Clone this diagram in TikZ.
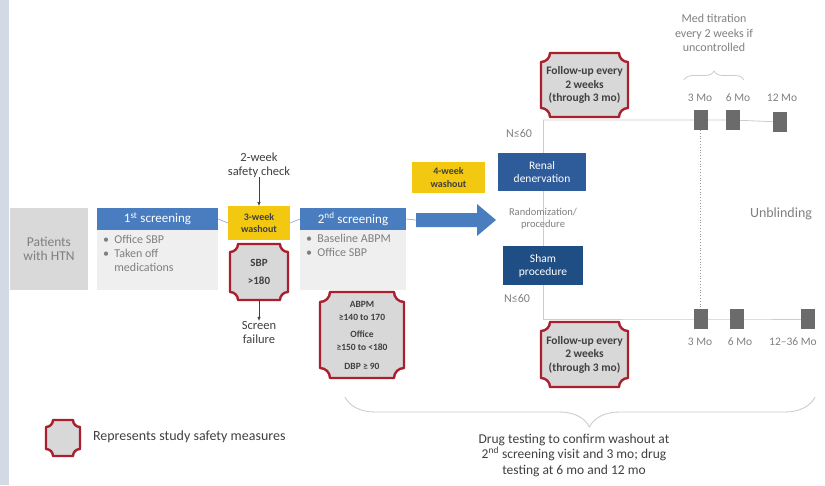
\documentclass[tikz,border=0pt]{standalone}
\usepackage{fontspec}
\setmainfont{Carlito}
\usetikzlibrary{backgrounds,calc,decorations.pathreplacing,arrows.meta}
\definecolor{stripc}{HTML}{D3DAE6}
\definecolor{boxgray}{HTML}{D9D9D9}
\definecolor{bodygray}{HTML}{EFEFEF}
\definecolor{headblue}{HTML}{4A7DBF}
\definecolor{renalblue}{HTML}{2E5C9A}
\definecolor{shamblue}{HTML}{1F4E85}
\definecolor{washy}{HTML}{F2C811}
\definecolor{plaqred}{HTML}{A91F2E}
\definecolor{plaqfill}{HTML}{D8D8D8}
\definecolor{txtgray}{HTML}{7F7F7F}
\definecolor{darktxt}{HTML}{404040}
\definecolor{linegray}{HTML}{CCCCCC}
\definecolor{markgray}{HTML}{6B6B6B}
\pgfdeclarelayer{bg}
\pgfdeclarelayer{mid}
\pgfsetlayers{bg,mid,main}
\newcommand\plaq[2][7]{%
\begin{pgfonlayer}{mid}
\filldraw[draw=plaqred, fill=plaqfill, line width=2.4pt, line join=round]
 ($(#2.north west)+(0,#1)$) .. controls ($(#2.north west)+(0.55*#1,#1)$) and ($(#2.north west)+(#1,0.55*#1)$) .. ($(#2.north west)+(#1,0)$)
 -- ($(#2.north east)+(-#1,0)$) .. controls ($(#2.north east)+(-#1,0.55*#1)$) and ($(#2.north east)+(-0.55*#1,#1)$) .. ($(#2.north east)+(0,#1)$)
 -- ($(#2.south east)+(0,-#1)$) .. controls ($(#2.south east)+(-0.55*#1,-#1)$) and ($(#2.south east)+(-#1,-0.55*#1)$) .. ($(#2.south east)+(-#1,0)$)
 -- ($(#2.south west)+(#1,0)$) .. controls ($(#2.south west)+(#1,-0.55*#1)$) and ($(#2.south west)+(0.55*#1,-#1)$) .. ($(#2.south west)+(0,-#1)$)
 -- cycle;
\end{pgfonlayer}}
\tikzset{
 base/.style={inner sep=0pt, outer sep=0pt, align=center},
 graybox/.style={base, fill=boxgray, text=txtgray, font=\fontsize{13.5}{14.5}\selectfont},
 headbox/.style={base, fill=headblue, text=white, font=\fontsize{13}{14}\selectfont},
 bodybox/.style={base, fill=bodygray},
 bullets/.style={base, align=left, text=txtgray, font=\fontsize{12}{14}\selectfont},
 washbox/.style={base, fill=washy, text=darktxt, font=\bfseries\fontsize{10}{12.5}\selectfont},
 safetxt/.style={base, text=darktxt, font=\bfseries\fontsize{11}{13}\selectfont},
 note/.style={base, text=darktxt, font=\fontsize{12.5}{14}\selectfont},
 armbox/.style={base, text=white, font=\fontsize{11.5}{13}\selectfont},
 small/.style={base, text=txtgray, font=\fontsize{10.5}{12}\selectfont},
 mlabel/.style={base, text=txtgray, font=\fontsize{11.5}{14}\selectfont},
 marker/.style={base, fill=markgray, minimum width=14pt, minimum height=20pt},
 thin/.style={draw=headblue!70, line width=0.6pt},
 grayline/.style={draw=linegray, line width=0.8pt},
 arr/.style={-{Latex[length=4pt,width=3.5pt]}, draw=darktxt, line width=0.6pt}
}
\begin{document}
\begin{tikzpicture}[x=1pt,y=-1pt]
\useasboundingbox (0,0) rectangle (825,485);
\fill[stripc] (0,0) rectangle (9,485);

% left column
\node[graybox, minimum width=78pt, minimum height=82pt] (pat) at (49,249) {Patients\\with HTN};
\node[headbox, minimum width=121pt, minimum height=22pt] (h1) at (157.5,219) {1\textsuperscript{st} screening};
\node[bodybox, minimum width=121pt, minimum height=60pt] (b1) at (157.5,260) {};
\node[bullets, anchor=north west] (bl1) at (103,235) {\textbullet\ \ Office SBP\\\textbullet\ \ Taken off\\\phantom{\textbullet\ \ }medications};

\node[washbox, minimum width=62pt, minimum height=34pt] (w1) at (259,223) {3-week\\washout};
\node[note] (sc) at (259,165) {2-week\\safety check};
\node[safetxt, minimum width=58pt, minimum height=56pt] (sbp) at (259,272) {SBP\\[5pt]>180};
\plaq[8]{sbp}
\node[note] (sf) at (259,332) {Screen\\failure};
\draw[arr] (sc.south) -- (w1.north);
\draw[arr] (sbp.south) -- (sf.north);

\node[headbox, minimum width=106pt, minimum height=22pt] (h2) at (353,219) {2\textsuperscript{nd} screening};
\node[bodybox, minimum width=106pt, minimum height=60pt] (b2) at (353,260) {};
\node[bullets, anchor=north west] (bl2) at (306,234) {\textbullet\ \ Baseline ABPM\\\textbullet\ \ Office SBP};
\node[safetxt, minimum width=84pt, minimum height=86pt, font=\bfseries\fontsize{9.5}{13}\selectfont] (abpm) at (362,335)
 {ABPM\\≥140 to 170\\[4pt]Office\\≥150 to <180\\[6pt]DBP ≥ 90};
\plaq[10]{abpm}

\draw[thin] (h1.east) -- (w1.west);
\draw[thin] (w1.east) -- (h2.west);

% big arrow
\coordinate (at) at (416,220);
\fill[headblue] (416,213) -- (477,213) -- (477,204) -- (496,220) -- (477,236) -- (477,227) -- (416,227) -- cycle;
\draw[thin] (h2.east) -- (at);
\node[washbox, minimum width=73pt, minimum height=31pt] (w2) at (448.5,177.5) {4-week\\washout};

% randomization
\coordinate (tl) at (543,120);
\coordinate (bl) at (543,319);
\node[armbox, fill=renalblue, minimum width=88pt, minimum height=38pt] (rd) at (542,172) {Renal\\denervation};
\node[armbox, fill=shamblue, minimum width=80pt, minimum height=39pt] (sh) at (543,265.5) {Sham\\procedure};
\node[small] (rand) at (543,219) {Randomization/\\procedure};
\node[mlabel, font=\fontsize{12}{14}\selectfont] (n1) at (519,133) {N≤60};
\node[mlabel, font=\fontsize{12}{14}\selectfont] (n2) at (517,298) {N≤60};

\node[safetxt, minimum width=87pt, minimum height=64pt, font=\bfseries\fontsize{11.5}{13.5}\selectfont] (fu1) at (584.5,85) {Follow-up every\\2 weeks\\(through 3 mo)};
\plaq[9]{fu1}
\node[safetxt, minimum width=87pt, minimum height=65pt, font=\bfseries\fontsize{11.5}{13.5}\selectfont] (fu2) at (584.5,354.5) {Follow-up every\\2 weeks\\(through 3 mo)};
\plaq[9]{fu2}

% markers
\node[marker] (m1) at (700.5,120) {};
\node[marker] (m2) at (732.5,120) {};
\node[marker] (m3) at (780,122) {};
\node[marker] (m4) at (700.5,319) {};
\node[marker] (m5) at (736.5,319) {};
\node[marker] (m6) at (807.5,319) {};
\node[mlabel] (l1) at (700,98) {3 Mo};
\node[mlabel] (l2) at (738,98) {6 Mo};
\node[mlabel] (l3) at (782,98) {12 Mo};
\node[mlabel] (l4) at (700,342) {3 Mo};
\node[mlabel] (l5) at (740,342) {6 Mo};
\node[mlabel] (l6) at (793,342) {12–36 Mo};

\begin{pgfonlayer}{bg}
\draw[grayline] (tl) -- (bl);
\draw[grayline] (tl) -- (m1.center) -- (m2.center) -- (m3.center);
\draw[grayline] (bl) -- (m4.center) -- (m5.center) -- (m6.center);
\draw[draw=markgray!70, line width=0.8pt, dotted] (m1.south) -- (m4.north);
\end{pgfonlayer}

\node[mlabel, font=\fontsize{12}{14.5}\selectfont] (med) at (714,33) {Med titration\\every 2 weeks if\\uncontrolled};
\coordinate (bra) at (684,80);
\coordinate (brb) at (744,80);
\draw[draw=linegray, line width=0.8pt, decorate, decoration={brace, amplitude=9pt}] (bra) -- (brb);
\node[mlabel, font=\fontsize{14}{15}\selectfont] (unb) at (781,214) {Unblinding};

% bottom brace
\coordinate (bba) at (815,397);
\coordinate (bbb) at (345,397);
\draw[draw=linegray, line width=0.9pt, decorate, decoration={brace, amplitude=30pt, aspect=0.48}] (bba) -- (bbb);
\node[note, font=\fontsize{13.5}{15.5}\selectfont] (drug) at (574,455) {Drug testing to confirm washout at\\2\textsuperscript{nd} screening visit and 3 mo; drug\\testing at 6 mo and 12 mo};

% legend
\node[base, minimum width=34pt, minimum height=36pt] (leg) at (63,438) {};
\plaq[7]{leg}
\node[note, font=\fontsize{14}{15}\selectfont, anchor=west] (legt) at (93,437) {Represents study safety measures};
\end{tikzpicture}
\end{document}
